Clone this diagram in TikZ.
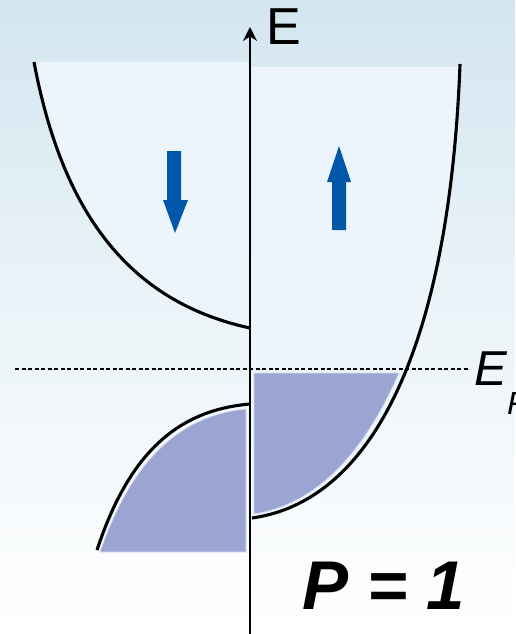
\documentclass[tikz,border=0pt]{standalone}
\usepackage{fontspec}
\setmainfont{Liberation Sans}
\usetikzlibrary{arrows.meta}
\definecolor{bgtop}{HTML}{D3E6F0}
\definecolor{inner}{HTML}{EDF5FC}
\definecolor{fillblue}{HTML}{9CA5D1}
\definecolor{spin}{HTML}{0057A8}
\tikzset{
  band/.style={line width=3.1pt, black},
  occ/.style={fill=fillblue, draw=white!60!fillblue, line width=0.8pt},
  spinarrow/.style={fill=spin, draw=none},
  lbl/.style={inner sep=0pt, anchor=base west}
}
\begin{document}
\begin{tikzpicture}[x=1pt,y=-1pt]
\useasboundingbox (0,0) rectangle (515,634);
% background
\shade[top color=bgtop, bottom color=white, middle color=bgtop!45!white] (0,0) rectangle (515,634);
% interiors
\fill[inner] (34,62) .. controls (60,200) and (120,300) .. (250,328) -- (250,62) -- cycle;
\fill[inner] (252,518) -- (252,67) -- (460,67) .. controls (450,330) and (380,500) .. (252,518) -- cycle;
% occupied states
\filldraw[occ] (100,552) .. controls (133,456) and (183,415) .. (246,409) -- (246,552) -- cycle;
\filldraw[occ] (254,373) -- (399,373) .. controls (362,458) and (313,505) .. (254,514) -- cycle;
% bands
\draw[band] (34,62) .. controls (60,200) and (120,300) .. (250,328);
\draw[band] (460,64) .. controls (450,330) and (380,500) .. (252,518);
\draw[band] (97,550) .. controls (130,450) and (180,410) .. (250,404);
% Fermi level
\draw[line width=1.1pt, dash pattern=on 4pt off 2.5pt] (15,369) -- (470,369);
% axis
\coordinate (axb) at (250,634);
\coordinate (axt) at (250,27);
\draw[line width=1.8pt, -{Stealth[length=14pt,width=14pt]}] (axb) -- (axt);
% spin arrows
\fill[spinarrow] (167,151) -- (181,151) -- (181,200) -- (188,200) -- (175,233) -- (163,200) -- (167,200) -- cycle;
\fill[spinarrow] (332,230) -- (346,230) -- (346,182) -- (351,182) -- (339,146) -- (327,182) -- (332,182) -- cycle;
% labels
\node[lbl, font=\fontsize{52}{52}\selectfont] (elabel) at (266,45) {E};
\node[lbl, font=\fontsize{49}{49}\selectfont\itshape] (eflabel) at (474,385) {E};
\node[lbl, font=\fontsize{32}{32}\selectfont\itshape] (fsub) at (507,414) {F};
\node[lbl, font=\fontsize{69}{69}\selectfont\bfseries\itshape] (plabel) at (302,609) {P = 1};
\end{tikzpicture}
\end{document}
